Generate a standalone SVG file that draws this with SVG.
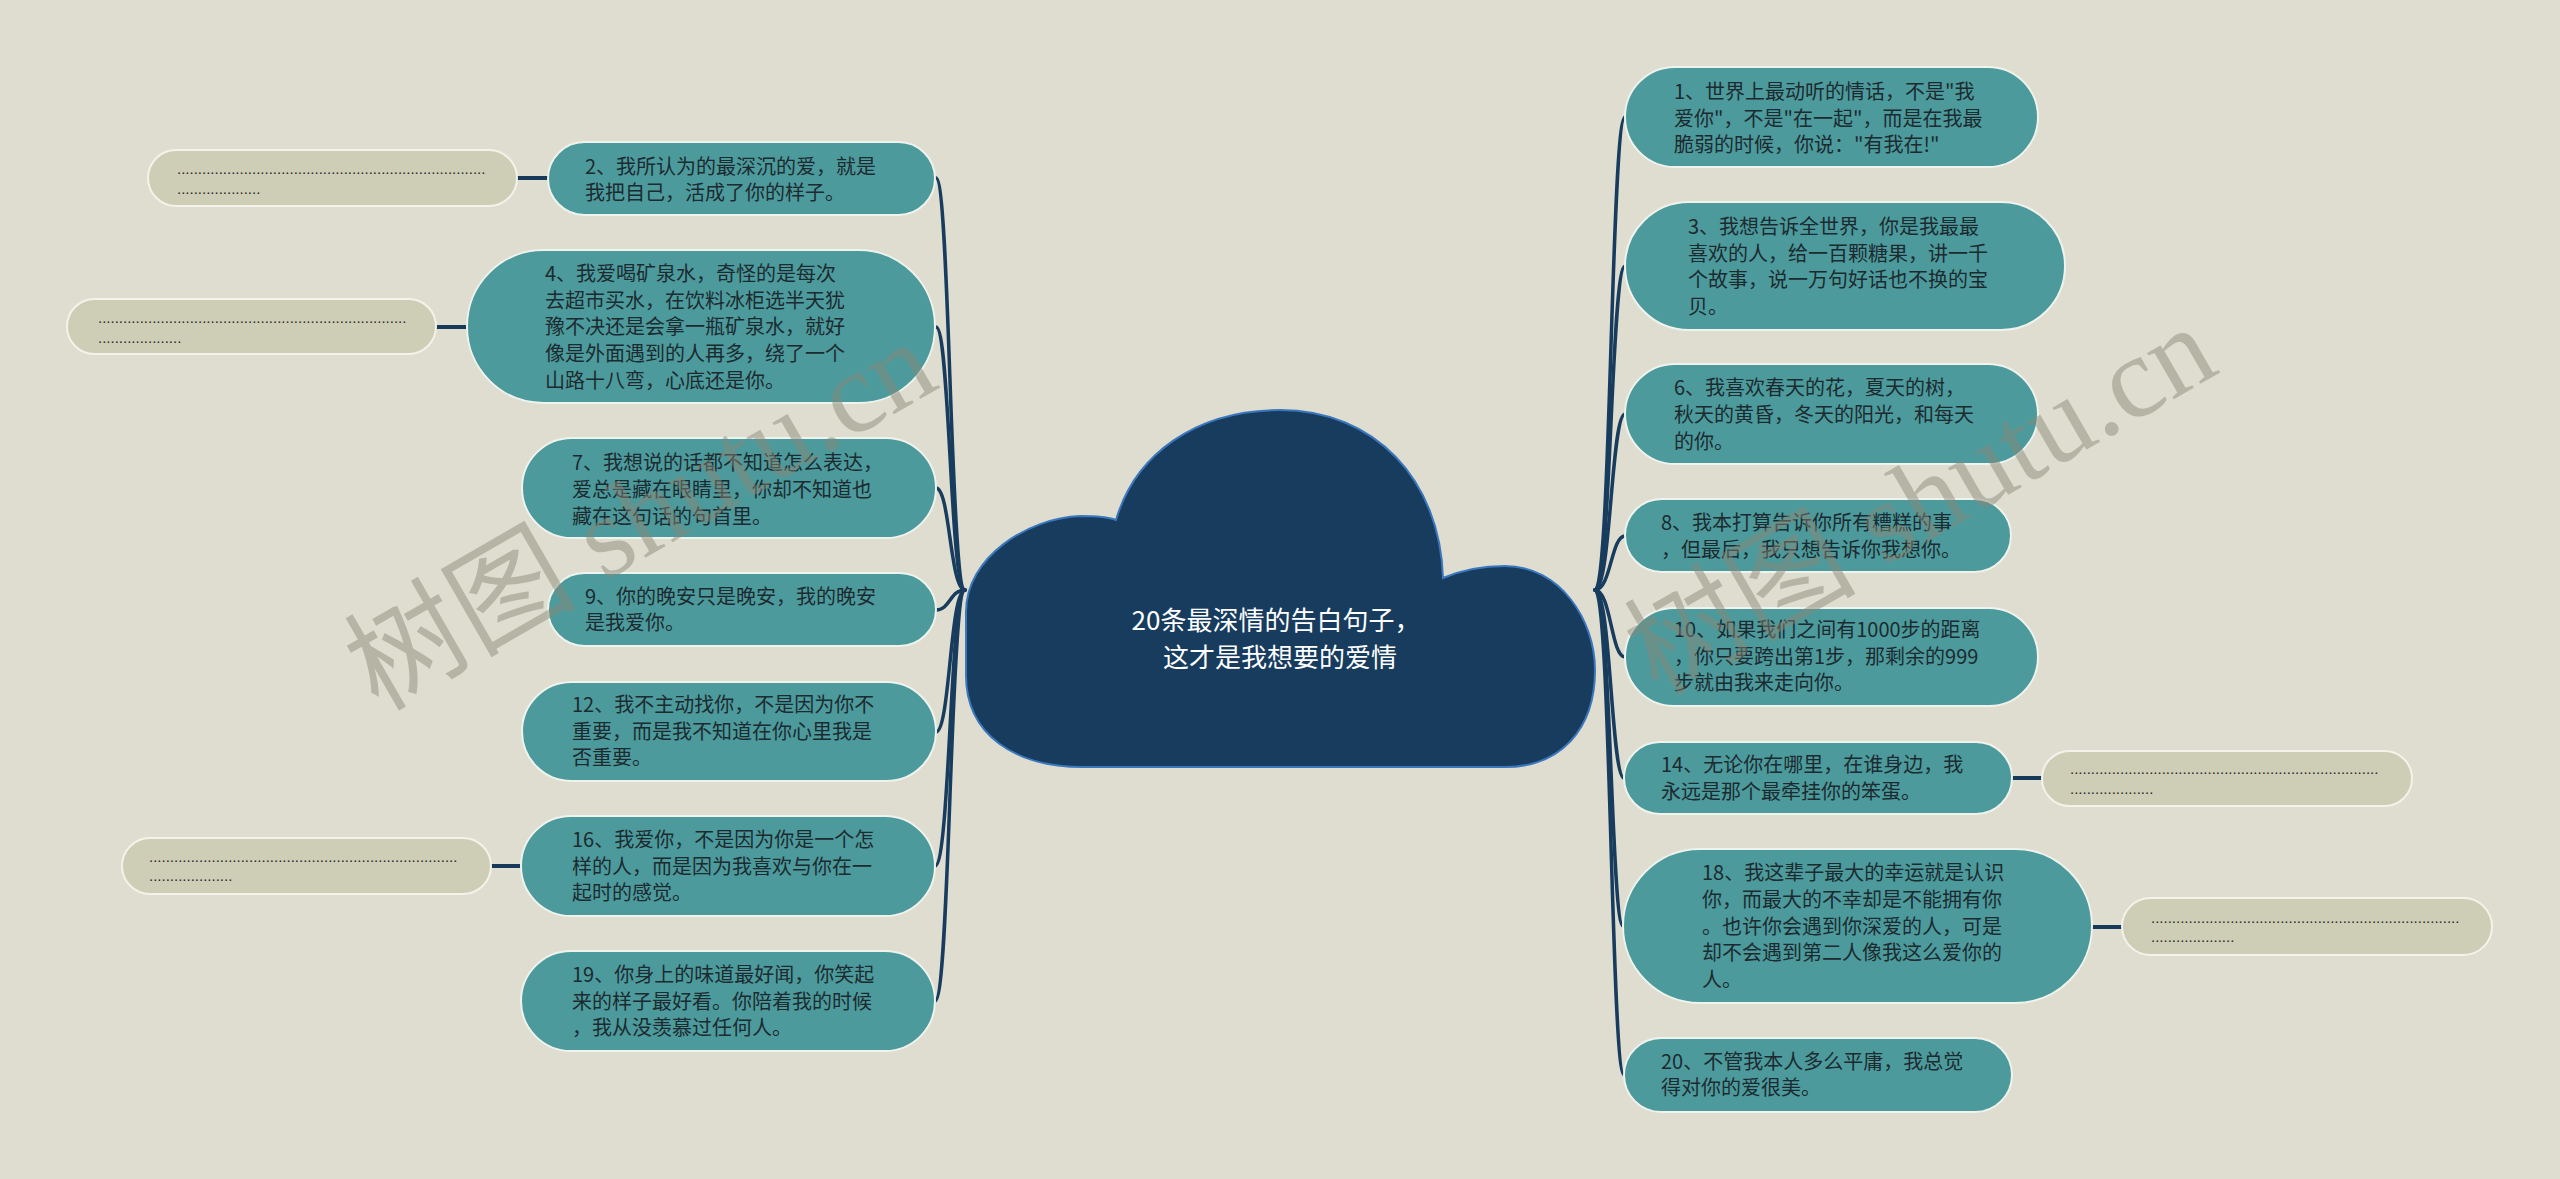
<svg xmlns="http://www.w3.org/2000/svg" width="2560" height="1179" viewBox="0 0 2560 1179">
<style>
.bg{fill:#dfddd0}
.node{fill:#4c9a9c;stroke:#eef3ee;stroke-width:2}
.gnode{fill:#cecdb6;stroke:#f4f3ea;stroke-width:2}
.t{font-family:"Noto Sans CJK SC","Noto Sans",sans-serif;font-size:20px;fill:#1c2b30}
.dots{font-family:"Liberation Sans",Arial,sans-serif;font-size:15px;fill:#2a2a2a}
.conn{fill:none;stroke:#173c5e;stroke-width:3.5;stroke-linecap:round}
.stub{fill:none;stroke:#173a5a;stroke-width:4}
.title{font-family:"Noto Sans CJK SC","Noto Sans",sans-serif;font-size:26px;fill:#ffffff;text-anchor:middle}
.wm{font-family:"Liberation Serif","Noto Sans CJK SC",serif;font-size:116px;fill:#8a8878;opacity:0.48}
</style>
<rect class="bg" x="0" y="0" width="2560" height="1179"/>

<g id="connectors">
<path class="conn" d="M965 590 C950 590,950 178,936 178"/>
<path class="conn" d="M965 590 C950 590,950 327,936 327"/>
<path class="conn" d="M965 590 C950 590,950 488,936 488"/>
<path class="conn" d="M965 590 C950 590,950 610,936 610"/>
<path class="conn" d="M965 590 C950 590,950 732,936 732"/>
<path class="conn" d="M965 590 C950 590,950 866,935 866"/>
<path class="conn" d="M965 590 C950 590,950 1001,935 1001"/>
<path class="conn" d="M1595 590 C1611 590,1611 117,1625 117"/>
<path class="conn" d="M1595 590 C1611 590,1611 266,1625 266"/>
<path class="conn" d="M1595 590 C1611 590,1611 414,1625 414"/>
<path class="conn" d="M1595 590 C1611 590,1611 536,1625 536"/>
<path class="conn" d="M1595 590 C1611 590,1611 657,1625 657"/>
<path class="conn" d="M1595 590 C1611 590,1611 778,1624 778"/>
<path class="conn" d="M1595 590 C1611 590,1611 926,1623 926"/>
<path class="conn" d="M1595 590 C1611 590,1611 1075,1624 1075"/>
<line class="stub" x1="517" y1="178" x2="548" y2="178"/>
<line class="stub" x1="436" y1="327" x2="467" y2="327"/>
<line class="stub" x1="491" y1="866" x2="521" y2="866"/>
<line class="stub" x1="2012" y1="778" x2="2042" y2="778"/>
<line class="stub" x1="2092" y1="927" x2="2122" y2="927"/>
</g>

<g id="root">
<path d="M1083 767 C1015 767,966 735,966 675 L966 612 C966 557,1028 518,1080 516 C1095 516,1108 517,1116 520 C1135 455,1195 410,1280 410 C1375 410,1440 480,1443 578 C1462 570,1485 566,1505 566 C1560 566,1595 620,1595 670 C1595 730,1560 767,1505 767 Z" fill="#173c5e" stroke="#3a77bd" stroke-width="2"/>
<text class="title"><tspan x="1276" y="630">20条最深情的告白句子，</tspan><tspan x="1280" y="667">这才是我想要的爱情</tspan></text>
</g>

<g id="n1"><rect class="node" x="1625" y="67" width="413" height="100" rx="50"/>
<text class="t"><tspan x="1674" y="99">1、世界上最动听的情话，不是"我</tspan><tspan x="1674" y="125.5">爱你"，不是"在一起"，而是在我最</tspan><tspan x="1674" y="152">脆弱的时候，你说："有我在!"</tspan></text></g>

<g id="n3"><rect class="node" x="1625" y="202" width="440" height="128" rx="64"/>
<text class="t"><tspan x="1688" y="234">3、我想告诉全世界，你是我最最</tspan><tspan x="1688" y="260.5">喜欢的人，给一百颗糖果，讲一千</tspan><tspan x="1688" y="287">个故事，说一万句好话也不换的宝</tspan><tspan x="1688" y="314">贝。</tspan></text></g>

<g id="n6"><rect class="node" x="1625" y="364" width="413" height="100" rx="50"/>
<text class="t"><tspan x="1674" y="395">6、我喜欢春天的花，夏天的树，</tspan><tspan x="1674" y="422">秋天的黄昏，冬天的阳光，和每天</tspan><tspan x="1674" y="449">的你。</tspan></text></g>

<g id="n8"><rect class="node" x="1625" y="499" width="386" height="73" rx="36.5"/>
<text class="t"><tspan x="1661" y="530">8、我本打算告诉你所有糟糕的事</tspan><tspan x="1661" y="557">，但最后，我只想告诉你我想你。</tspan></text></g>

<g id="n10"><rect class="node" x="1625" y="608" width="413" height="98" rx="49"/>
<text class="t"><tspan x="1674" y="637">10、如果我们之间有1000步的距离</tspan><tspan x="1674" y="664">，你只要跨出第1步，那剩余的999</tspan><tspan x="1674" y="690">步就由我来走向你。</tspan></text></g>

<g id="n14"><rect class="node" x="1624" y="742" width="388" height="72" rx="36"/>
<text class="t"><tspan x="1661" y="772">14、无论你在哪里，在谁身边，我</tspan><tspan x="1661" y="799">永远是那个最牵挂你的笨蛋。</tspan></text></g>

<g id="n18"><rect class="node" x="1623" y="849" width="469" height="154" rx="77"/>
<text class="t"><tspan x="1702" y="880">18、我这辈子最大的幸运就是认识</tspan><tspan x="1702" y="907">你，而最大的不幸却是不能拥有你</tspan><tspan x="1702" y="934">。也许你会遇到你深爱的人，可是</tspan><tspan x="1702" y="960">却不会遇到第二人像我这么爱你的</tspan><tspan x="1702" y="987">人。</tspan></text></g>

<g id="n20"><rect class="node" x="1624" y="1038" width="388" height="74" rx="37"/>
<text class="t"><tspan x="1661" y="1069">20、不管我本人多么平庸，我总觉</tspan><tspan x="1661" y="1095">得对你的爱很美。</tspan></text></g>

<g id="n2"><rect class="node" x="548" y="142" width="387" height="73" rx="36.5"/>
<text class="t"><tspan x="585" y="174">2、我所认为的最深沉的爱，就是</tspan><tspan x="585" y="200">我把自己，活成了你的样子。</tspan></text></g>

<g id="n4"><rect class="node" x="467" y="250" width="468" height="153" rx="76.5"/>
<text class="t"><tspan x="545" y="281">4、我爱喝矿泉水，奇怪的是每次</tspan><tspan x="545" y="308">去超市买水，在饮料冰柜选半天犹</tspan><tspan x="545" y="334">豫不决还是会拿一瓶矿泉水，就好</tspan><tspan x="545" y="361">像是外面遇到的人再多，绕了一个</tspan><tspan x="545" y="388">山路十八弯，心底还是你。</tspan></text></g>

<g id="n7"><rect class="node" x="522" y="438" width="414" height="100" rx="50"/>
<text class="t"><tspan x="572" y="470">7、我想说的话都不知道怎么表达，</tspan><tspan x="572" y="497">爱总是藏在眼睛里，你却不知道也</tspan><tspan x="572" y="524">藏在这句话的句首里。</tspan></text></g>

<g id="n9"><rect class="node" x="548" y="573" width="388" height="73" rx="36.5"/>
<text class="t"><tspan x="585" y="604">9、你的晚安只是晚安，我的晚安</tspan><tspan x="585" y="630">是我爱你。</tspan></text></g>

<g id="n12"><rect class="node" x="522" y="682" width="414" height="99" rx="49.5"/>
<text class="t"><tspan x="572" y="712">12、我不主动找你，不是因为你不</tspan><tspan x="572" y="739">重要，而是我不知道在你心里我是</tspan><tspan x="572" y="765">否重要。</tspan></text></g>

<g id="n16"><rect class="node" x="521" y="816" width="414" height="100" rx="50"/>
<text class="t"><tspan x="572" y="847">16、我爱你，不是因为你是一个怎</tspan><tspan x="572" y="874">样的人，而是因为我喜欢与你在一</tspan><tspan x="572" y="900">起时的感觉。</tspan></text></g>

<g id="n19"><rect class="node" x="521" y="951" width="414" height="100" rx="50"/>
<text class="t"><tspan x="572" y="982">19、你身上的味道最好闻，你笑起</tspan><tspan x="572" y="1009">来的样子最好看。你陪着我的时候</tspan><tspan x="572" y="1035">，我从没羡慕过任何人。</tspan></text></g>

<g id="g2"><rect class="gnode" x="148" y="150" width="369" height="56" rx="28"/>
<text class="dots"><tspan x="177" y="174">..........................................................................</tspan><tspan x="177" y="194">....................</tspan></text></g>

<g id="g4"><rect class="gnode" x="67" y="299" width="369" height="55" rx="27.5"/>
<text class="dots"><tspan x="98" y="323">..........................................................................</tspan><tspan x="98" y="343">....................</tspan></text></g>

<g id="g16"><rect class="gnode" x="122" y="838" width="369" height="56" rx="28"/>
<text class="dots"><tspan x="149" y="862">..........................................................................</tspan><tspan x="149" y="881">....................</tspan></text></g>

<g id="g14"><rect class="gnode" x="2042" y="751" width="370" height="55" rx="27.5"/>
<text class="dots"><tspan x="2070" y="774">..........................................................................</tspan><tspan x="2070" y="794">....................</tspan></text></g>

<g id="g18"><rect class="gnode" x="2122" y="898" width="370" height="57" rx="28.5"/>
<text class="dots"><tspan x="2151" y="923">..........................................................................</tspan><tspan x="2151" y="942">....................</tspan></text></g>

<g id="watermarks">
<text class="wm" transform="translate(378 712) rotate(-30)">树图 shutu.cn</text>
<text class="wm" transform="translate(1658 697) rotate(-30)">树图 shutu.cn</text>
</g>
</svg>
